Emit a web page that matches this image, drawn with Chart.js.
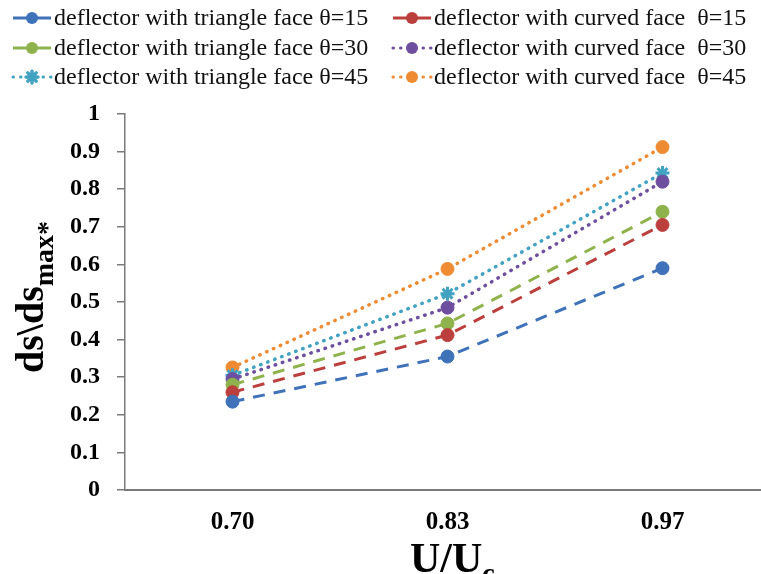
<!DOCTYPE HTML>
<html>
<head>
   <title>ds/dsmax</title>
   <script src="https://cdn.jsdelivr.net/npm/chart.js"></script>
   <style>
     html, body { margin: 0; padding: 0; background: #fff; overflow: hidden; }
     canvas { display: block; }
   </style>
</head>
<body>
   <canvas id="myChart" width="780" height="574"></canvas>

   <script type="text/javascript">
      // categories (U/Uc)
      var xLabels = ["0.70", "0.83", "0.97"];

      // ds/dsmax*
      var tri15 = [0.235, 0.355, 0.590];
      var cur15 = [0.260, 0.412, 0.705];
      var tri30 = [0.280, 0.443, 0.740];
      var cur30 = [0.295, 0.485, 0.820];
      var tri45 = [0.305, 0.522, 0.843];
      var cur45 = [0.326, 0.588, 0.912];

      var seriesNames = [
        "deflector with triangle face \u03b8=15",
        "deflector with curved face  \u03b8=15",
        "deflector with triangle face \u03b8=30",
        "deflector with curved face  \u03b8=30",
        "deflector with triangle face \u03b8=45",
        "deflector with curved face  \u03b8=45"
      ];

      var colors = {
        blue: '#3f72b8',
        red: '#bb3f3c',
        green: '#8fb34c',
        purple: '#6e4f9f',
        teal: '#41a2c2',
        orange: '#ef8b32'
      };

      var dashed = [12, 9];
      var dotted = [0.5, 7];

      function makeSet(name, data, color, dash, style) {
        return {
          label: name,
          data: data,
          borderColor: color,
          backgroundColor: color,
          pointBackgroundColor: color,
          pointBorderColor: color,
          borderWidth: dash === dotted ? 3.5 : 3,
          borderDash: dash,
          borderCapStyle: dash === dotted ? 'round' : 'butt',
          pointRadius: style === 'star' ? 7 : 6.5,
          pointBorderWidth: style === 'star' ? 3 : 1,
          pointStyle: style,
          tension: 0,
          fill: false,
          legendSolid: dash !== dotted
        };
      }

      var legendPlugin = {
        id: 'legendPlugin',
        afterDraw: function (chart) {
          var c = chart.ctx;
          var rows = [18, 48, 77];
          var cols = [13, 393];
          chart.data.datasets.forEach(function (ds, i) {
            var x0 = cols[i % 2];
            var y = rows[Math.floor(i / 2)];
            c.save();
            c.strokeStyle = ds.borderColor;
            c.lineWidth = 3;
            c.lineCap = ds.legendSolid ? 'butt' : 'round';
            c.setLineDash(ds.legendSolid ? [] : ds.borderDash);
            c.beginPath();
            c.moveTo(x0, y);
            c.lineTo(x0 + 38, y);
            c.stroke();
            c.setLineDash([]);
            c.fillStyle = ds.borderColor;
            if (ds.pointStyle === 'star') {
              Chart.helpers.drawPoint(c, {pointStyle: 'star', radius: 6, borderWidth: 3}, x0 + 19, y);
              c.stroke();
            } else {
              c.beginPath();
              c.arc(x0 + 19, y, 6, 0, Math.PI * 2);
              c.fill();
            }
            c.fillStyle = '#111';
            c.font = '24px "Liberation Serif"';
            c.textBaseline = 'middle';
            c.textAlign = 'left';
            c.fillText(ds.label, x0 + 41, y + 1);
            c.restore();
          });
        }
      };

      var titlePlugin = {
        id: 'titlePlugin',
        afterDraw: function (chart) {
          var c = chart.ctx;
          c.save();
          c.fillStyle = '#000';
          c.textBaseline = 'alphabetic';
          c.textAlign = 'left';
          // y title, rotated
          c.translate(43, 373);
          c.rotate(-Math.PI / 2);
          c.font = 'bold 40px "Liberation Serif"';
          c.fillText('ds\\ds', 0, 0);
          var w = c.measureText('ds\\ds').width;
          c.font = 'bold 28px "Liberation Serif"';
          c.fillText('max', w, 10);
          var w2 = c.measureText('max').width;
          c.fillText('*', w + w2, 13);
          c.restore();

          // x title
          c.save();
          c.fillStyle = '#000';
          c.textBaseline = 'alphabetic';
          c.textAlign = 'left';
          c.font = 'bold 42px "Liberation Serif"';
          c.fillText('U/U', 410, 572);
          var w3 = c.measureText('U/U').width;
          c.font = 'bold 28px "Liberation Serif"';
          c.fillText('c', 410 + w3, 582);
          c.restore();
        }
      };

      const ctx = document.getElementById('myChart');

      var myChart = new Chart(ctx, {
        type: 'line',
        data: {
          labels: xLabels,
          datasets: [
            makeSet(seriesNames[0], tri15, colors.blue, dashed, 'circle'),
            makeSet(seriesNames[1], cur15, colors.red, dashed, 'circle'),
            makeSet(seriesNames[2], tri30, colors.green, dashed, 'circle'),
            makeSet(seriesNames[3], cur30, colors.purple, dotted, 'circle'),
            makeSet(seriesNames[4], tri45, colors.teal, dotted, 'star'),
            makeSet(seriesNames[5], cur45, colors.orange, dotted, 'circle')
          ]
        },
        options: {
          responsive: false,
          animation: false,
          devicePixelRatio: 1,
          layout: { padding: { top: 114, right: 10, left: 0, bottom: 0 } },
          plugins: {
            legend: { display: false },
            tooltip: { enabled: false },
            title: { display: false }
          },
          scales: {
            x: {
              type: 'category',
              offset: true,
              grid: { drawOnChartArea: false, drawTicks: false },
              border: { display: true, color: '#7a7a7a', width: 2 },
              ticks: {
                padding: 18,
                color: '#000',
                font: { family: 'Liberation Serif', weight: 'bold', size: 25 }
              },
              afterFit: function (s) { s.height = 84; }
            },
            y: {
              min: 0,
              max: 1,
              ticks: {
                stepSize: 0.1,
                padding: 17,
                color: '#000',
                font: { family: 'Liberation Serif', weight: 'bold', size: 24 },
                callback: function (v) {
                  return (v === 0 || v === 1) ? String(v) : v.toFixed(1);
                }
              },
              grid: { drawOnChartArea: false, drawTicks: true, tickLength: 8, color: '#7a7a7a', lineWidth: 1.5 },
              border: { display: true, color: '#7a7a7a', width: 1.5 },
              afterFit: function (s) { s.width = 125; }
            }
          }
        },
        plugins: [legendPlugin, titlePlugin]
      });
   </script>
</body>
</html>
